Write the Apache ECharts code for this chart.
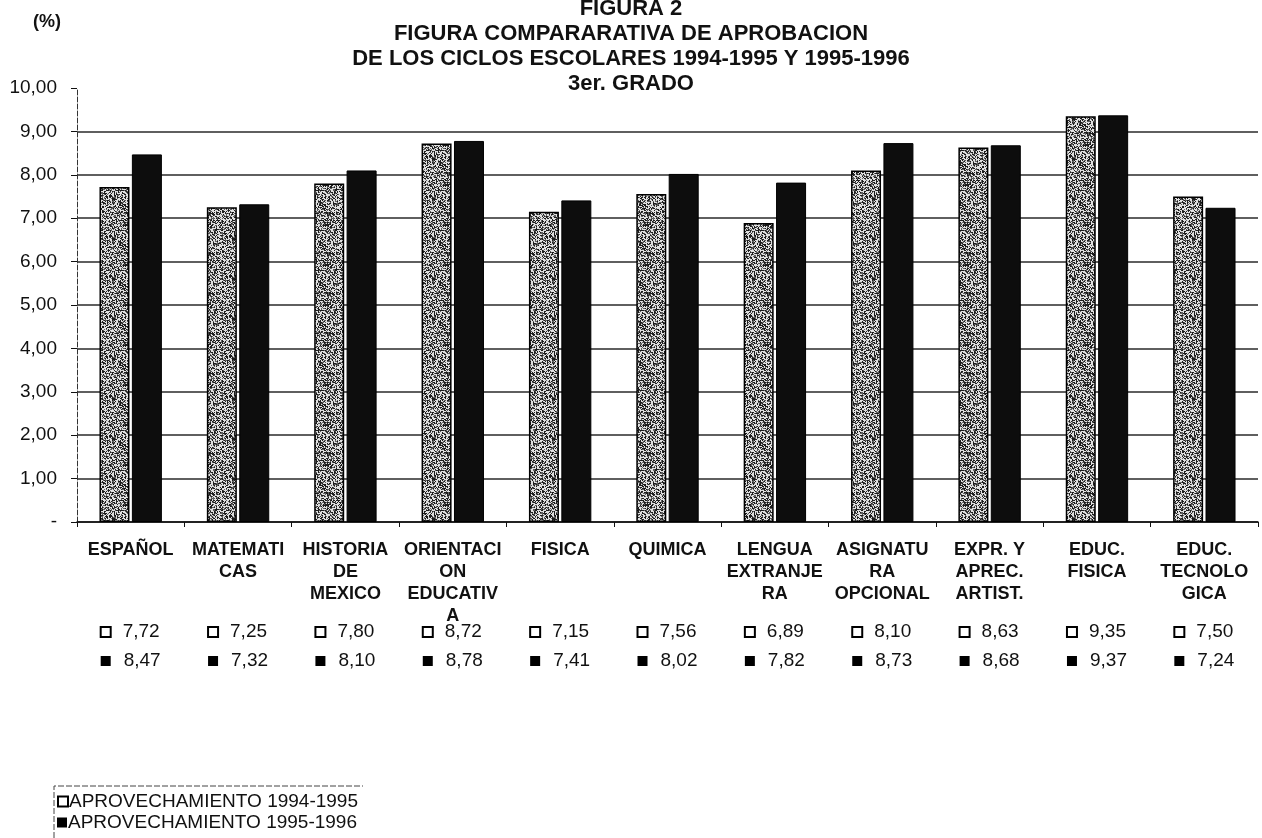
<!DOCTYPE html>
<html>
<head>
<meta charset="utf-8">
<script src="https://cdn.jsdelivr.net/npm/echarts@6/dist/echarts.min.js"></script>
<style>html,body{margin:0;padding:0;background:#fff}#c{width:1262px;height:838px}</style>
</head>
<body>
<div id="c"></div>
<script>
const categories = ['ESPAÑOL','MATEMATI\nCAS','HISTORIA\nDE\nMEXICO','ORIENTACI\nON\nEDUCATIV\nA','FISICA','QUIMICA','LENGUA\nEXTRANJE\nRA','ASIGNATU\nRA\nOPCIONAL','EXPR. Y\nAPREC.\nARTIST.','EDUC.\nFISICA','EDUC.\nTECNOLO\nGICA'];
const serie1994 = [7.72,7.25,7.80,8.72,7.15,7.56,6.89,8.10,8.63,9.35,7.50];
const serie1995 = [8.47,7.32,8.10,8.78,7.41,8.02,7.82,8.73,8.68,9.37,7.24];
const seriesNames = ['APROVECHAMIENTO 1994-1995','APROVECHAMIENTO 1995-1996'];
const yTicks = [0,1,2,3,4,5,6,7,8,9,10];
const titleLines = ['FIGURA 2','FIGURA COMPARARATIVA DE APROBACION','DE LOS CICLOS ESCOLARES 1994-1995 Y 1995-1996','3er. GRADO'];

function fmt(v){ return v.toFixed(2).replace('.', ','); }

// speckled texture (deterministic)
const pc = document.createElement('canvas');
pc.width = 40; pc.height = 40;
const pctx = pc.getContext('2d');
pctx.fillStyle = '#e0e0e0'; pctx.fillRect(0,0,40,40);
for (let y = 0; y < 40; y++) {
  for (let x = 0; x < 40; x++) {
    let h = Math.sin(x * 12.9898 + y * 78.233) * 43758.5453;
    h = h - Math.floor(h);
    if (h < 0.55) { pctx.fillStyle = h < 0.33 ? '#1c1c1c' : '#5e5e5e'; pctx.fillRect(x, y, 1, 1); }
  }
}

const chart = echarts.init(document.getElementById('c'), null, {renderer:'canvas'});
const font = 'Liberation Sans, Arial, sans-serif';
const gridColors = yTicks.map((t,i) => i === yTicks.length - 1 ? 'rgba(0,0,0,0)' : '#2a2a2a');

function valueAxis(values, offset, dark){
  return {
    type:'category', data: categories, gridIndex:0, position:'bottom', offset: offset,
    axisLine:{show:false}, axisTick:{show:false}, splitLine:{show:false},
    axisLabel:{
      margin:0, interval:0, lineHeight:22,
      formatter: (v, i) => (dark ? '{d|}' : '{l|}') + '{t|' + fmt(values[i]) + '}',
      rich:{
        l:{width:8, height:8, backgroundColor:'#fff', borderColor:'#000', borderWidth:2},
        d:{width:10, height:10, backgroundColor:'#000'},
        t:{fontFamily:font, fontSize:19, color:'#111', lineHeight:22, padding:[0,0,0,13]}
      }
    }
  };
}

chart.setOption({
  animation:false,
  backgroundColor:'#fff',
  title:[
    {text: titleLines.join('\n'), left:'center', top:-9,
     textStyle:{fontFamily:font, fontSize:22, fontWeight:'bold', color:'#111', lineHeight:25}},
    {text:'(%)', left:28, top:8, textStyle:{fontFamily:font, fontSize:18, fontWeight:'bold', color:'#111'}}
  ],
  grid:{left:77, right:4, top:88, bottom:316, containLabel:false},
  legend:[
    {left:57, top:792, padding:0, itemWidth:10, itemHeight:10, itemGap:0,
     textStyle:{fontFamily:font, fontSize:19, color:'#111', padding:[0,0,0,-4]},
     data:[{name:seriesNames[0], icon:'rect', itemStyle:{color:'#fff', borderColor:'#000', borderWidth:2}}]},
    {left:57, top:813, padding:0, itemWidth:10, itemHeight:10, itemGap:0,
     textStyle:{fontFamily:font, fontSize:19, color:'#111', padding:[0,0,0,-4]},
     data:[{name:seriesNames[1], icon:'rect', itemStyle:{color:'#000', borderWidth:0}}]}
  ],
  graphic:[
    {type:'polyline', shape:{points:[[54,838],[54,786],[363,786]]}, style:{stroke:'#444', lineWidth:1, lineDash:[6,2], fill:null}}
  ],
  xAxis:[
    {type:'category', data:categories, gridIndex:0,
     axisLine:{lineStyle:{color:'#111', width:1.5}},
     axisTick:{show:true, length:5, lineStyle:{color:'#111'}},
     axisLabel:{interval:0, margin:17, fontFamily:font, fontSize:18, fontWeight:'bold', color:'#111', lineHeight:22, verticalAlign:'top'}},
    valueAxis(serie1994, 99, false),
    valueAxis(serie1995, 128, true)
  ],
  yAxis:{
    type:'value', min:0, max:10, interval:1,
    axisLine:{show:true, lineStyle:{color:'#333', width:1, type:[5,2]}},
    axisTick:{show:true, inside:false, length:6, lineStyle:{color:'#111'}},
    axisLabel:{margin:20, fontFamily:font, fontSize:19, color:'#111', formatter:v => v === 0 ? '-' : fmt(v)},
    splitLine:{show:true, lineStyle:{color:gridColors, width:1.5}}
  },
  series:[
    {name:seriesNames[0], type:'bar', xAxisIndex:0, data:serie1994, barWidth:30, barGap:'8%',
     itemStyle:{color:{image:pc, repeat:'repeat'}, borderColor:'#000', borderWidth:1.5}},
    {name:seriesNames[1], type:'bar', xAxisIndex:0, data:serie1995, barWidth:30,
     itemStyle:{color:'#0d0d0d', borderColor:'#000', borderWidth:1}}
  ]
});
</script>
</body>
</html>
